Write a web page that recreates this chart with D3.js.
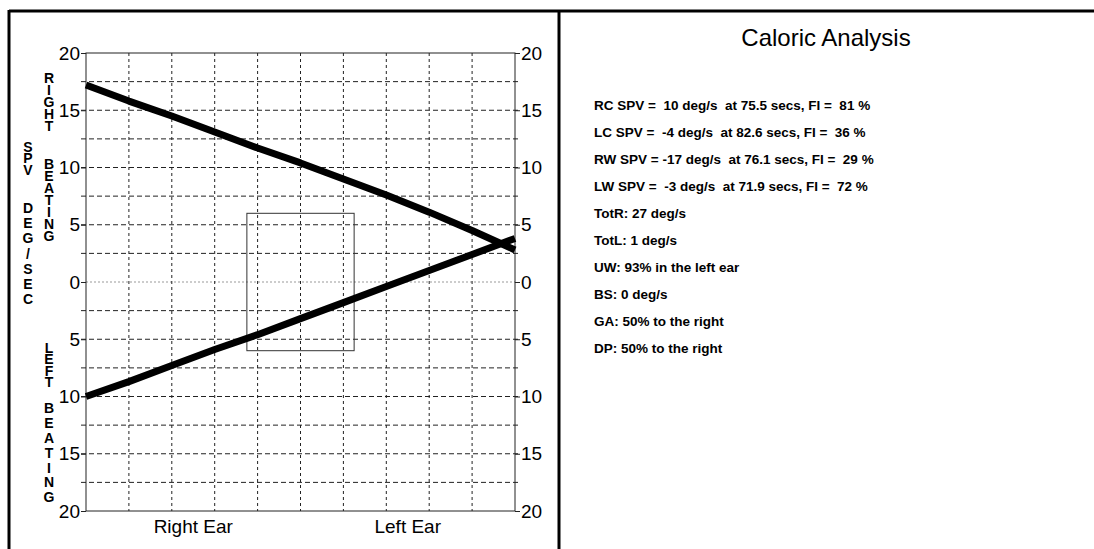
<meta charset="utf-8">
<title>Caloric Analysis</title>
<script src="https://d3js.org/d3.v7.min.js"></script>
<style>
  body {
    margin: 0;
    background: #fff;
  }
  svg text {
    font-family: "Liberation Sans", Arial, sans-serif;
    white-space: pre;
  }
  svg text.stack {
    writing-mode: vertical-rl;
    text-orientation: upright;
  }
</style>
<body>
<svg width="1094" height="549"></svg>
<script>

  // data
  const
    xSteps = d3.range(0, 11),
    rightBeating = [17.2, 15.8, 14.5, 13.1, 11.7, 10.4, 9.0, 7.6, 6.1, 4.5, 2.8],
    leftBeating = [-10.0, -8.7, -7.3, -5.9, -4.6, -3.2, -1.8, -0.4, 1.0, 2.4, 3.8],
    yTickValues = [-20, -15, -10, -5, 0, 5, 10, 15, 20],
    yGridValues = [-17.5, -15, -12.5, -10, -7.5, -5, -2.5, 2.5, 5, 7.5, 10, 12.5, 15, 17.5],
    earLabels = ['Right Ear', 'Left Ear'],
    earAt = [2.5, 7.5],
    boxX = [3.75, 6.25],
    boxY = [-6, 6]

  const
    title = 'Caloric Analysis',
    results = [
      'RC SPV =  10 deg/s  at 75.5 secs, FI =  81 %',
      'LC SPV =  -4 deg/s  at 82.6 secs, FI =  36 %',
      'RW SPV = -17 deg/s  at 76.1 secs, FI =  29 %',
      'LW SPV =  -3 deg/s  at 71.9 secs, FI =  72 %',
      'TotR: 27 deg/s',
      'TotL: 1 deg/s',
      'UW: 93% in the left ear',
      'BS: 0 deg/s',
      'GA: 50% to the right',
      'DP: 50% to the right'
    ]

  // stacked side captions: [text, first letter centre y, row step, column x]
  const sideWords = [
    ['SPV', 147, 11, 28], ['DEG/SEC', 208, 14.8, 28],
    ['RIGHT', 78, 11.5, 49], ['BEATING', 164, 11.7, 49],
    ['LEFT', 348, 11, 49], ['BEATING', 408, 14.5, 49]
  ]

  const svg = d3.select('svg')

  const x = d3.scaleLinear().domain([0, 10]).range([86, 515]),
        y = d3.scaleLinear().domain([-20, 20]).range([511, 53])

  // page frame
  const frame = svg.append('g')
    .attr('stroke', '#000')
    .attr('stroke-width', 3)
  frame.append('line').attr('x1', 9).attr('x2', 1094).attr('y1', 11).attr('y2', 11)
  frame.append('line').attr('x1', 9).attr('x2', 9).attr('y1', 10).attr('y2', 549)
  frame.append('line').attr('x1', 559).attr('x2', 559).attr('y1', 10).attr('y2', 549)

  // grid
  svg.append('g')
    .selectAll('line')
    .data(yGridValues)
    .join('line')
      .attr('x1', x(0) - 5)
      .attr('x2', x(10) + 5)
      .attr('y1', d => y(d))
      .attr('y2', d => y(d))
      .attr('stroke', '#222')
      .attr('stroke-width', 1)
      .attr('stroke-dasharray', '5,3')

  svg.append('line')
    .attr('x1', x(0)).attr('x2', x(10))
    .attr('y1', y(0)).attr('y2', y(0))
    .attr('stroke', '#999')
    .attr('stroke-dasharray', '2,2')

  svg.append('g')
    .selectAll('line')
    .data(xSteps.slice(1, -1))
    .join('line')
      .attr('x1', d => x(d))
      .attr('x2', d => x(d))
      .attr('y1', y(20))
      .attr('y2', y(-20))
      .attr('stroke', '#222')
      .attr('stroke-width', 1)
      .attr('stroke-dasharray', '3,3')

  // plot border
  svg.append('rect')
    .attr('x', x(0)).attr('y', y(20))
    .attr('width', x(10) - x(0)).attr('height', y(-20) - y(20))
    .attr('fill', 'none')
    .attr('stroke', '#222')

  // axes
  const styleAxis = g => {
    g.select('.domain').remove()
    g.selectAll('.tick line').attr('stroke', '#222')
    g.selectAll('.tick text')
      .attr('font-size', 19)
      .attr('fill', '#000')
  }

  svg.append('g')
    .attr('transform', `translate(${x(0)},0)`)
    .call(d3.axisLeft(y).tickValues(yTickValues).tickFormat(d => Math.abs(d)).tickSize(5).tickPadding(1))
    .call(styleAxis)

  svg.append('g')
    .attr('transform', `translate(${x(10)},0)`)
    .call(d3.axisRight(y).tickValues(yTickValues).tickFormat(d => Math.abs(d)).tickSize(5).tickPadding(1))
    .call(styleAxis)

  svg.append('g')
    .selectAll('text')
    .data(earLabels)
    .join('text')
      .attr('x', (d, i) => x(earAt[i]))
      .attr('y', 533)
      .attr('text-anchor', 'middle')
      .attr('font-size', 19)
      .text(d => d)

  // side captions, written top to bottom with upright letters,
  // one tspan per letter (vertical advance of a glyph is ascent + descent)
  const capSize = 14,
        capAdvance = capSize * 1.117

  svg.append('g')
    .selectAll('text')
    .data(sideWords)
    .join('text')
      .attr('class', 'stack')
      .attr('x', d => d[3])
      .attr('y', d => d[1] - capAdvance / 2)
      .attr('font-size', capSize)
      .attr('font-weight', 'bold')
      .style('letter-spacing', d => `${d[2] - capAdvance}px`)
      .each(function (d) {
        d3.select(this)
          .selectAll('tspan')
          .data(d[0].split(''))
          .join('tspan')
            .text(c => c)
      })

  // box
  svg.append('rect')
    .attr('x', x(boxX[0])).attr('y', y(boxY[1]))
    .attr('width', x(boxX[1]) - x(boxX[0]))
    .attr('height', y(boxY[0]) - y(boxY[1]))
    .attr('fill', 'none')
    .attr('stroke', '#333')

  // SPV lines
  const line = d3.line()
    .x((d, i) => x(xSteps[i]))
    .y(d => y(d))

  svg.selectAll('path.spv')
    .data([rightBeating, leftBeating])
    .join('path')
      .attr('class', 'spv')
      .attr('fill', 'none')
      .attr('stroke', '#000')
      .attr('stroke-width', 7)
      .attr('stroke-linejoin', 'round')
      .attr('d', line)

  // right panel
  svg.append('text')
    .attr('x', 826)
    .attr('y', 46)
    .attr('text-anchor', 'middle')
    .attr('font-size', 24)
    .text(title)

  svg.append('g')
    .selectAll('text')
    .data(results)
    .join('text')
      .attr('x', 594)
      .attr('y', (d, i) => 105 + i * 27 + 5)
      .attr('font-size', 13.5)
      .attr('font-weight', 'bold')
      .text(d => d)

</script>
</body>
